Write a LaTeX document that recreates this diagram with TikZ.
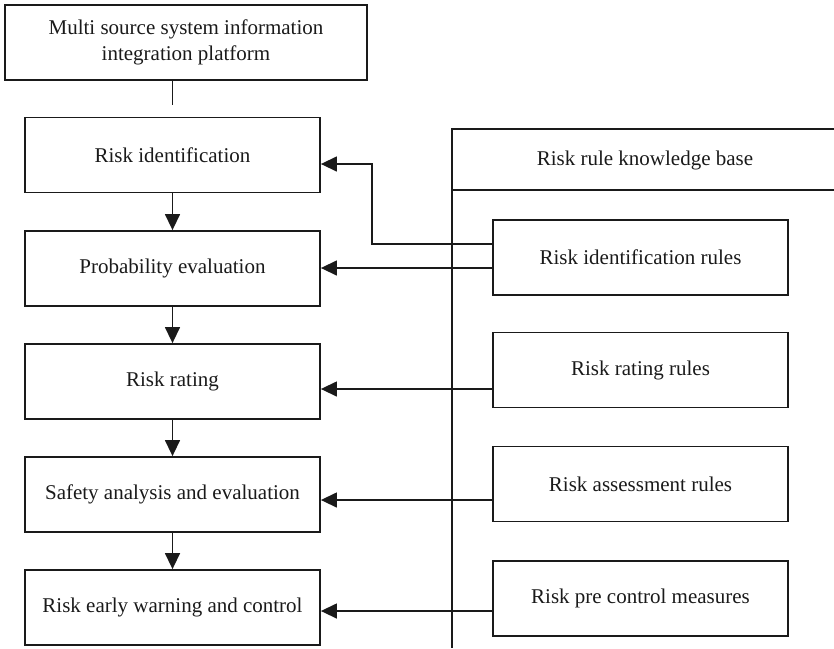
\documentclass[tikz,border=0pt]{standalone}
\usepackage{fontspec}
\setmainfont{Liberation Serif}
\usetikzlibrary{arrows.meta}
\definecolor{ink}{HTML}{1A1A1A}
\begin{document}
\begin{tikzpicture}[x=1pt,y=-1pt,
  box/.style={draw=ink, line width=1.8pt, minimum width=295pt, minimum height=75pt,
              inner sep=0pt, align=center, text=ink, font=\fontsize{21}{25.5}\selectfont},
  link/.style={draw=ink, line width=1.4pt},
  arr/.style={link, -{Triangle[length=16pt,width=15pt]}},
  lbl/.style={text=ink, font=\fontsize{21}{25.5}\selectfont}]
\useasboundingbox (0,0) rectangle (834,648);

% source platform
\node[box, minimum width=362pt] (src) at (186,42.5)
  {Multi source system information\\integration platform};

% main process column
\node[box] (rid)    at (172.5,155)   {Risk identification};
\node[box] (prob)   at (172.5,268.5) {Probability evaluation};
\node[box] (rate)   at (172.5,381.5) {Risk rating};
\node[box] (safe)   at (172.5,494.5) {Safety analysis and evaluation};
\node[box] (early)  at (172.5,607.5) {Risk early warning and control};

% knowledge base frame (open to the right and bottom)
\coordinate (kbtl) at (452,129);
\coordinate (kbtr) at (834,129);
\coordinate (kbbl) at (452,648);
\coordinate (kbml) at (452,190);
\coordinate (kbmr) at (834,190);
\draw[link] (kbtr) -- (kbtl) -- (kbbl);
\draw[link] (kbml) -- (kbmr);
\node[lbl] (kbtitle) at (645,160) {Risk rule knowledge base};

% rule boxes
\node[box] (ridr)  at (640.5,257.5) {Risk identification rules};
\node[box] (rater) at (640.5,370)   {Risk rating rules};
\node[box] (assr)  at (640.5,484)   {Risk assessment rules};
\node[box] (pcm)   at (640.5,598.5) {Risk pre control measures};

% platform feed line
\coordinate (feedend) at (172.5,105);
\draw[link] (rid.north |- src.south) -- (feedend);

% process flow
\draw[arr] (rid) -- (prob);
\draw[arr] (prob) -- (rate);
\draw[arr] (rate) -- (safe);
\draw[arr] (safe) -- (early);

% rules to process steps
\coordinate (bendlo) at (372,244);
\coordinate (bendhi) at (372,164);
\draw[arr] (ridr.west |- bendlo) -- (bendlo) -- (bendhi) -- (rid.east |- bendhi);
\coordinate (tapprob) at (ridr.west |- 0,268);
\draw[arr] (tapprob) -- (prob.east |- tapprob);
\coordinate (taprate) at (rater.west |- 0,389);
\draw[arr] (taprate) -- (rate.east |- taprate);
\coordinate (tapsafe) at (assr.west |- 0,500);
\draw[arr] (tapsafe) -- (safe.east |- tapsafe);
\coordinate (tapearly) at (pcm.west |- 0,611);
\draw[arr] (tapearly) -- (early.east |- tapearly);
\end{tikzpicture}
\end{document}
